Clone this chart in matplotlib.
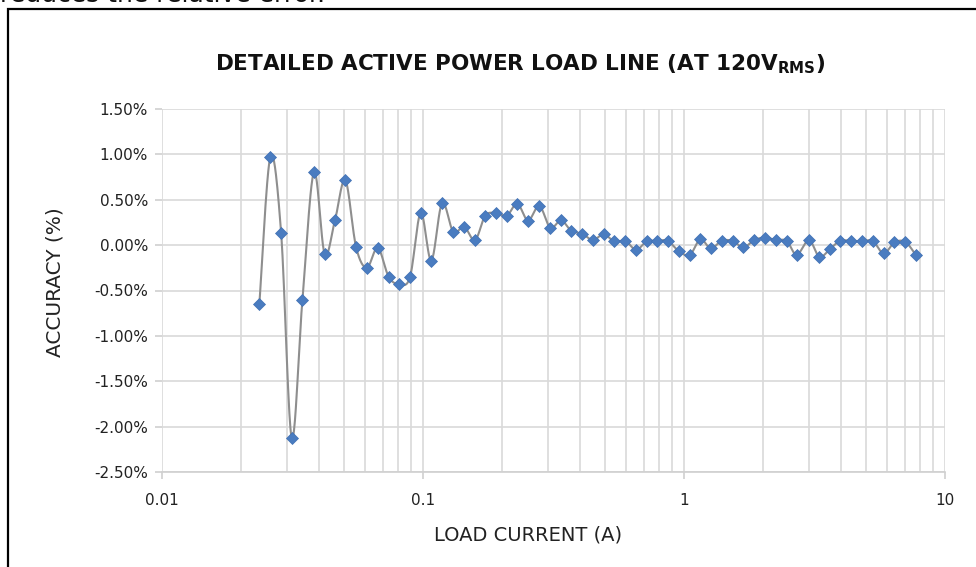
import numpy as np
import matplotlib
matplotlib.use("Agg")
import matplotlib.pyplot as plt
from matplotlib import font_manager
from matplotlib.patches import Rectangle
from matplotlib.ticker import FixedLocator, NullFormatter

# valores (corrente em A, precisao em %)
corrente = [0.0236, 0.0260, 0.0286, 0.0314, 0.0345, 0.0382, 0.0420, 0.0460, 0.0504, 0.0554,
            0.0609, 0.0671, 0.0739, 0.0811, 0.0892, 0.098, 0.1076, 0.1183, 0.1307, 0.1436,
            0.1582, 0.1733, 0.1909, 0.2098, 0.2298, 0.2526, 0.2790, 0.3074, 0.3379, 0.370,
            0.4077, 0.4481, 0.4925, 0.5408, 0.5958, 0.6548, 0.7197, 0.790, 0.866, 0.959,
            1.054, 1.155, 1.266, 1.395, 1.537, 1.687, 1.859, 2.049, 2.252, 2.475,
            2.703, 3.012, 3.299, 3.626, 3.960, 4.375, 4.808, 5.284, 5.823, 6.394,
            7.046, 7.721]
precisao = [-0.654, 0.973, 0.136, -2.12, -0.61, 0.804, -0.10, 0.275, 0.716, -0.02,
            -0.25, -0.03, -0.35, -0.43, -0.35, 0.356, -0.17, 0.462, 0.143, 0.205,
            0.055, 0.326, 0.352, 0.326, 0.458, 0.271, 0.433, 0.19, 0.275, 0.158,
            0.125, 0.055, 0.121, 0.04, 0.047, -0.052, 0.04, 0.047, 0.047, -0.07,
            -0.107, 0.066, -0.037, 0.047, 0.047, -0.026, 0.055, 0.084, 0.055, 0.047,
            -0.107, 0.055, -0.129, -0.044, 0.047, 0.047, 0.04, 0.047, -0.092, 0.029,
            0.036, -0.107]

yticks = [1.5, 1.0, 0.5, 0.0, -0.5, -1.0, -1.5, -2.0, -2.5]
xticks = [0.01, 0.1, 1, 10]
xtick_labels = ["0.01", "0.1", "1", "10"]

plt.rcParams["font.family"] = ["DejaVu Sans"]

# fonte estreita para o titulo, se existir
instaladas = {f.name for f in font_manager.fontManager.ttflist}
fonte_titulo, tam_titulo = "DejaVu Sans", 15.5
for nome, tam in [("Liberation Sans Narrow", 17.5), ("DejaVu Sans Condensed", 15)]:
    if nome in instaladas:
        fonte_titulo, tam_titulo = nome, tam
        break


def linha_suave(x, y, n=24):
    # curva suave tipo Excel (Catmull-Rom em escala log)
    lx = np.log10(x)
    y = np.asarray(y, dtype=float)
    px = np.concatenate([[lx[0]], lx, [lx[-1]]])
    py = np.concatenate([[y[0]], y, [y[-1]]])
    xs, ys = [], []
    t = np.linspace(0, 1, n)
    for i in range(1, len(px) - 2):
        p0x, p1x, p2x, p3x = px[i - 1], px[i], px[i + 1], px[i + 2]
        p0y, p1y, p2y, p3y = py[i - 1], py[i], py[i + 1], py[i + 2]
        c1x, c1y = p1x + (p2x - p0x) / 6, p1y + (p2y - p0y) / 6
        c2x, c2y = p2x - (p3x - p1x) / 6, p2y - (p3y - p1y) / 6
        bx = (1 - t) ** 3 * p1x + 3 * (1 - t) ** 2 * t * c1x + 3 * (1 - t) * t ** 2 * c2x + t ** 3 * p2x
        by = (1 - t) ** 3 * p1y + 3 * (1 - t) ** 2 * t * c1y + 3 * (1 - t) * t ** 2 * c2y + t ** 3 * p2y
        xs.append(bx)
        ys.append(by)
    return 10 ** np.concatenate(xs), np.concatenate(ys)


fig = plt.figure(figsize=(9.76, 5.67), dpi=100)
ax = fig.add_axes([162 / 976, 1 - 472 / 567, (945 - 162) / 976, (472 - 109) / 567])

sx, sy = linha_suave(np.array(corrente), precisao)
ax.plot(sx, sy, color="#8e8e8e", linewidth=1.5, zorder=2)
ax.plot(corrente, precisao, linestyle="none", marker="D", markersize=6.5,
        color="#4a7cc0", markeredgecolor="#3f6fb3", markeredgewidth=0.5, zorder=3)

ax.set_xscale("log")
ax.set_xlim(0.01, 10)
ax.set_ylim(-2.5, 1.5)
ax.set_yticks(yticks)
ax.set_yticklabels([f"{v:.2f}%" for v in yticks])
ax.xaxis.set_major_locator(FixedLocator(xticks))
ax.set_xticklabels(xtick_labels)
ax.xaxis.set_minor_formatter(NullFormatter())
ax.grid(True, which="both", axis="x", color="#d9d9d9", linewidth=1.2)
ax.grid(True, which="major", axis="y", color="#d9d9d9", linewidth=1.2)
ax.set_axisbelow(True)
for s in ["top", "right", "left"]:
    ax.spines[s].set_visible(False)
ax.spines["bottom"].set_color("#d0d0d0")
ax.spines["bottom"].set_linewidth(1.2)
ax.tick_params(axis="both", which="major", color="#d0d0d0", length=5, width=1.2,
               labelsize=11, labelcolor="#222222")
ax.tick_params(axis="y", pad=5)
ax.tick_params(axis="x", pad=10)
ax.tick_params(axis="x", which="minor", length=0)

fig.text(520 / 976, 1 - 64 / 567, r"DETAILED ACTIVE POWER LOAD LINE (AT 120V$_{\mathregular{RMS}}$)",
         ha="center", va="center", fontsize=tam_titulo, fontweight="bold", color="#111111",
         family=[fonte_titulo, "DejaVu Sans"])
fig.text(55 / 976, 1 - 282 / 567, "ACCURACY (%)", rotation=90, ha="center", va="center",
         fontsize=14.5, color="#222222")
fig.text(528 / 976, 1 - 535 / 567, "LOAD CURRENT (A)", ha="center", va="center",
         fontsize=14, color="#222222")

# texto cortado no topo da imagem
fig.text(0.0, 1 - 2 / 567, "reduces the relative error.", ha="left", va="baseline",
         fontsize=18, color="#111111")

# moldura
fig.add_artist(Rectangle((7.5 / 976, -0.2), 1.2, 1 - 8.5 / 567 + 0.2, transform=fig.transFigure,
                         fill=False, edgecolor="black", linewidth=1.6, clip_on=False))

fig.savefig("out.png", dpi=100)
